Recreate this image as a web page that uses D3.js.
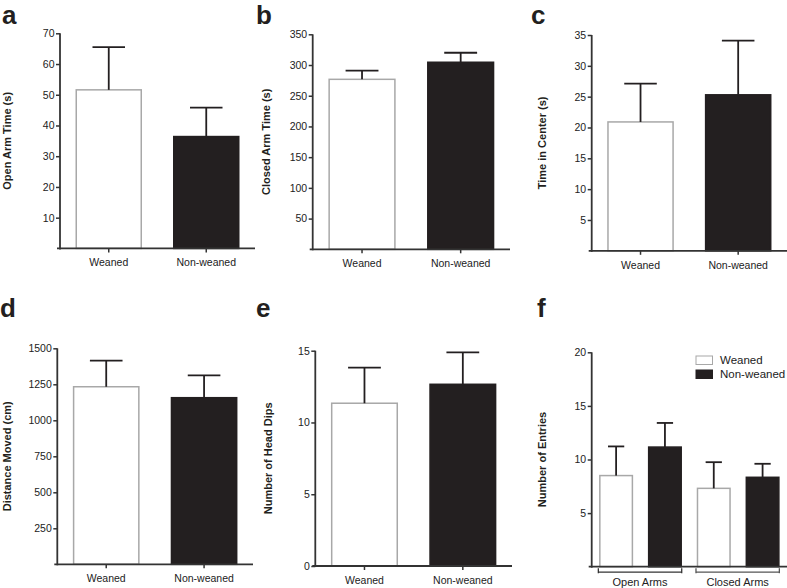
<!DOCTYPE html>
<html>
<head>
<meta charset="utf-8">
<script src="https://cdn.jsdelivr.net/npm/d3@7"></script>
<style>
  html, body { margin: 0; padding: 0; background: #fff; }
  svg { display: block; font-family: "Liberation Sans", Arial, Helvetica, sans-serif; }
</style>
</head>
<body>
<svg id="chart" width="787" height="588"></svg>
<script>
// ---------- DATA ----------
const groups = ["Weaned", "Non-weaned"];

const openArmMean = [51.6, 36.4];
const openArmSem  = [13.9, 9.4];
const openArmTicks = [10, 20, 30, 40, 50, 60, 70];

const closedArmMean = [276.7, 304.5];
const closedArmSem  = [14.1, 15.5];
const closedArmTicks = [50, 100, 150, 200, 250, 300, 350];

const centerMean = [20.9, 25.3];
const centerSem  = [6.2, 8.8];
const centerTicks = [5, 10, 15, 20, 25, 30, 35];

const distanceMean = [1233, 1157];
const distanceSem  = [181, 155];
const distanceTicks = [250, 500, 750, 1000, 1250, 1500];

const headDipsMean = [11.34, 12.66];
const headDipsSem  = [2.48, 2.23];
const headDipsTicks = [0, 5, 10, 15];

const arms = ["Open Arms", "Closed Arms"];
const entriesWeanedMean = [8.5, 7.31];
const entriesWeanedSem  = [2.72, 2.44];
const entriesNonWeanedMean = [11.16, 8.34];
const entriesNonWeanedSem  = [2.25, 1.26];
const entriesTicks = [5, 10, 15, 20];

// ---------- STYLE ----------
const INK = "#231f20";
const AXIS = "#333333";
const WHITE_STROKE = "#a8a8a8";
const fillFor = g => g === "Weaned" ? "#ffffff" : INK;
const strokeFor = g => g === "Weaned" ? WHITE_STROKE : INK;

const svg = d3.select("#chart");

function panelLetter(txt, x, y) {
  svg.append("text").attr("x", x).attr("y", y)
    .attr("font-size", 26).attr("font-weight", "bold").attr("fill", INK)
    .text(txt);
}

function yAxis(g, y, ticks, left) {
  const ax = g.append("g").attr("transform", `translate(${left},0)`)
    .call(d3.axisLeft(y).tickValues(ticks).tickSize(4).tickSizeOuter(0).tickFormat(d3.format("d")));
  ax.select(".domain").remove();
  ax.selectAll(".tick line").attr("stroke", AXIS).attr("stroke-width", 1.5);
  ax.selectAll(".tick text").attr("font-size", 10.5).attr("fill", "#222")
    .attr("font-family", '"Liberation Sans", Arial, sans-serif').attr("dx", 1.5);
  const [y0, y1] = y.range();
  g.append("line").attr("x1", left).attr("x2", left).attr("y1", y1).attr("y2", y0 + 1)
    .attr("stroke", AXIS).attr("stroke-width", 1.8);
}

function yLabel(text, x, yc) {
  svg.append("text")
    .attr("transform", `translate(${x},${yc}) rotate(-90)`)
    .attr("text-anchor", "middle").attr("dominant-baseline", "central")
    .attr("font-size", 11).attr("font-weight", "bold").attr("fill", INK)
    .text(text);
}

function errorBar(g, cx, yTop, yErr, capW) {
  g.append("line").attr("x1", cx).attr("x2", cx).attr("y1", yTop).attr("y2", yErr)
    .attr("stroke", INK).attr("stroke-width", 1.8);
  g.append("line").attr("x1", cx - capW / 2).attr("x2", cx + capW / 2).attr("y1", yErr).attr("y2", yErr)
    .attr("stroke", INK).attr("stroke-width", 1.8);
}

function simplePanel(cfg) {
  const { left, right, top, bottom, mean, sem, ticks, label, labelX } = cfg;
  const g = svg.append("g");
  const y = d3.scaleLinear().domain([0, ticks[ticks.length - 1]]).range([bottom, top]);
  const x = d3.scaleBand().domain(groups).range([left, right]).paddingInner(1 / 3).paddingOuter(1 / 6);

  g.selectAll("rect.bar").data(groups).join("rect")
    .attr("x", d => x(d)).attr("width", x.bandwidth())
    .attr("y", (d, i) => y(mean[i])).attr("height", (d, i) => y(0) - y(mean[i]))
    .attr("fill", d => fillFor(d)).attr("stroke", d => strokeFor(d)).attr("stroke-width", 1.5);

  groups.forEach((d, i) => {
    errorBar(g, x(d) + x.bandwidth() / 2, y(mean[i]), y(mean[i] + sem[i]), x.bandwidth() / 2);
  });

  const xa = g.append("g").attr("transform", `translate(0,${bottom})`)
    .call(d3.axisBottom(x).tickSize(4).tickSizeOuter(0));
  xa.select(".domain").remove();
  xa.selectAll(".tick line").attr("stroke", AXIS).attr("stroke-width", 1.5);
  xa.selectAll(".tick text").attr("font-size", 10.5).attr("fill", "#222")
    .attr("font-family", '"Liberation Sans", Arial, sans-serif').attr("dy", "1.05em");
  g.append("line").attr("x1", left - 3).attr("x2", right).attr("y1", bottom).attr("y2", bottom)
    .attr("stroke", AXIS).attr("stroke-width", 1.8);

  yAxis(g, y, ticks, left);
  yLabel(label, labelX, (top + bottom) / 2);
}

// ---------- PANELS ----------
panelLetter("a", 2, 24);
simplePanel({ left: 60, right: 255, top: 33.3, bottom: 248.4, mean: openArmMean, sem: openArmSem,
  ticks: openArmTicks, label: "Open Arm Time (s)", labelX: 7 });

panelLetter("b", 256, 24);
simplePanel({ left: 312.7, right: 510, top: 34.3, bottom: 249.3, mean: closedArmMean, sem: closedArmSem,
  ticks: closedArmTicks, label: "Closed Arm Time (s)", labelX: 266 });

panelLetter("c", 531, 24);
simplePanel({ left: 591.7, right: 787, top: 35, bottom: 250.8, mean: centerMean, sem: centerSem,
  ticks: centerTicks, label: "Time in Center (s)", labelX: 542 });

panelLetter("d", 0, 317);
simplePanel({ left: 57.3, right: 253, top: 348.3, bottom: 564.3, mean: distanceMean, sem: distanceSem,
  ticks: distanceTicks, label: "Distance Moved (cm)", labelX: 7 });

panelLetter("e", 256, 317);
simplePanel({ left: 315.3, right: 512, top: 350.7, bottom: 566, mean: headDipsMean, sem: headDipsSem,
  ticks: headDipsTicks, label: "Number of Head Dips", labelX: 268 });

// ---------- PANEL f (grouped) ----------
panelLetter("f", 537, 317);
(function () {
  const left = 591.7, right = 787, top = 352.3, bottom = 566.7;
  const g = svg.append("g");
  const y = d3.scaleLinear().domain([0, entriesTicks[entriesTicks.length - 1]]).range([bottom, top]);
  const x0 = d3.scaleBand().domain(arms).range([left, right]).padding(0);
  const x1 = d3.scaleBand().domain(groups).range([0, x0.bandwidth()]).paddingInner(1 / 3).paddingOuter(1 / 6);
  const rows = [];
  arms.forEach((a, i) => {
    rows.push({ arm: a, grp: "Weaned", mean: entriesWeanedMean[i], sem: entriesWeanedSem[i] });
    rows.push({ arm: a, grp: "Non-weaned", mean: entriesNonWeanedMean[i], sem: entriesNonWeanedSem[i] });
  });
  g.selectAll("rect.bar").data(rows).join("rect")
    .attr("x", d => x0(d.arm) + x1(d.grp)).attr("width", x1.bandwidth())
    .attr("y", d => y(d.mean)).attr("height", d => y(0) - y(d.mean))
    .attr("fill", d => fillFor(d.grp)).attr("stroke", d => strokeFor(d.grp)).attr("stroke-width", 1.5);
  rows.forEach(d => {
    const cx = x0(d.arm) + x1(d.grp) + x1.bandwidth() / 2;
    errorBar(g, cx, y(d.mean), y(d.mean + d.sem), x1.bandwidth() / 2);
  });
  g.append("line").attr("x1", left - 3).attr("x2", right).attr("y1", bottom).attr("y2", bottom)
    .attr("stroke", AXIS).attr("stroke-width", 1.8);
  arms.forEach(a => {
    const xa = x0(a) + x1(groups[0]) - 1.5;
    const xb = x0(a) + x1(groups[1]) + x1.bandwidth() + 0.5;
    const yb = bottom + 5.5;
    const col = a === "Open Arms" ? AXIS : "#555";
    g.append("line").attr("x1", xa).attr("x2", xb).attr("y1", yb).attr("y2", yb)
      .attr("stroke", col).attr("stroke-width", 1.3);
    g.append("line").attr("x1", xa).attr("x2", xa).attr("y1", yb - 4).attr("y2", yb + 1)
      .attr("stroke", col).attr("stroke-width", 1.3);
    g.append("line").attr("x1", xb).attr("x2", xb).attr("y1", yb - 4).attr("y2", yb + 1)
      .attr("stroke", col).attr("stroke-width", 1.3);
    g.append("text").attr("x", (xa + xb) / 2).attr("y", bottom + 19.5)
      .attr("text-anchor", "middle").attr("font-size", 11).attr("fill", "#222").text(a);
  });
  yAxis(g, y, entriesTicks, left);
  yLabel("Number of Entries", 542, (top + bottom) / 2);

  const lg = svg.append("g").attr("transform", "translate(696,356)");
  groups.forEach((grp, i) => {
    lg.append("rect").attr("x", 0).attr("y", i * 14).attr("width", 16.5).attr("height", 8.5)
      .attr("fill", fillFor(grp)).attr("stroke", strokeFor(grp)).attr("stroke-width", 1);
    lg.append("text").attr("x", 24).attr("y", i * 14 + 8.3)
      .attr("font-size", 11.5).attr("fill", "#222").text(grp);
  });
})();
</script>
</body>
</html>
